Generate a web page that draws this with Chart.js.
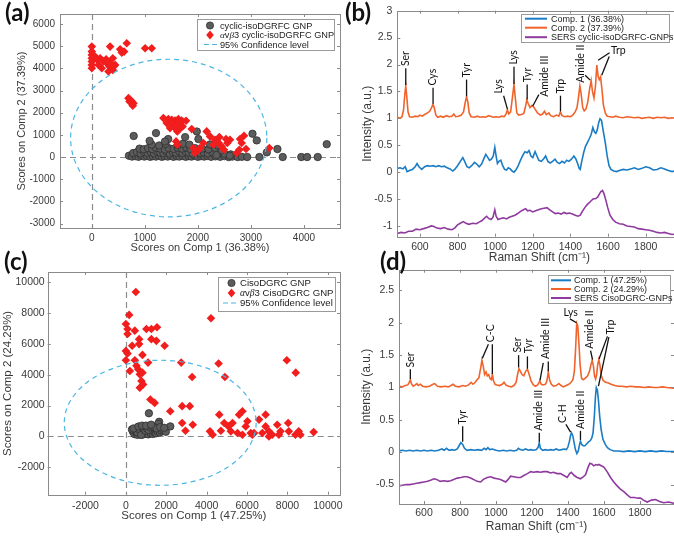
<!DOCTYPE html>
<html>
<head>
<meta charset="utf-8">
<script src="https://cdn.jsdelivr.net/npm/chart.js@4.4.1/dist/chart.umd.min.js"></script>
<style>
  body { margin: 0; width: 674px; height: 536px; overflow: hidden; background: #fff; position: relative; }
  canvas { position: absolute; }
  .lab { position: absolute; font: bold 24px Lato, 'Open Sans', sans-serif; color: #111; line-height: 24px; }
</style>
</head>
<body>
<canvas id="ca" width="345" height="262" style="left:0;top:0;width:345px;height:262px"></canvas>
<canvas id="cb" width="345" height="268" style="left:340px;top:0;width:345px;height:268px"></canvas>
<canvas id="cc" width="345" height="274" style="left:0;top:262px;width:345px;height:274px"></canvas>
<canvas id="cd" width="334" height="274" style="left:340px;top:262px;width:334px;height:274px"></canvas>
<div class="lab" style="left:5px;top:0">(a)</div>
<div class="lab" style="left:345px;top:0">(b)</div>
<div class="lab" style="left:4px;top:249px">(c)</div>
<div class="lab" style="left:380px;top:249px">(d)</div>
<script>
// ---------- panel (a): PCA scores, cyclic-isoDGRFC ----------
const aXTicks = [0, 1000, 2000, 3000, 4000];
const aYTicks = [-3000, -2000, -1000, 0, 1000, 2000, 3000, 4000, 5000, 6000];
const aLegend = ['cyclic-isoDGRFC GNP', '\u03B1v\u03B23 cyclic-isoDGRFC GNP', '95% Confidence level'];
const aEllipse = [1450, 855, 1850, 3555]; // centre x, centre y, half-width, half-height
const aGnp = [
  [700,60],[760,20],[820,40],[880,10],[930,60],[990,20],[1040,50],[1100,10],[1150,40],[1210,20],
  [1260,60],[1320,10],[1370,40],[1430,20],[1480,60],[1540,10],[1600,40],[1650,20],[1710,50],[1770,10],
  [1830,40],[1880,20],[1940,60],[2000,10],[2060,40],[2120,20],[2180,50],[2250,10],[2330,30],[2420,10],
  [2500,40],[2580,0],[2650,20],[2750,0],[2830,10],[2930,0],
  [780,180],[850,220],[920,160],[980,240],[1050,190],[1110,230],[1170,170],[1230,250],[1290,200],[1350,180],
  [1410,240],[1470,160],[1530,220],[1590,190],[1650,250],[1710,170],[1770,230],[1830,200],[1900,160],[1970,240],
  [2040,180],[2110,210],[2190,160],[2270,230],[2380,170],[2500,150],[2620,120],
  [900,380],[980,350],[1060,400],[1140,360],[1210,420],[1290,380],[1380,340],[1450,400],[1540,370],[1620,420],
  [1700,380],[1780,430],[1860,360],[1950,400],[2080,380],[2200,350],[2330,400],
  [1130,560],[1270,520],[1390,590],[1620,540],[1720,600],[1840,560],[2230,570],[2380,520],
  [790,950],[1090,730],[1210,1080],[1440,810],[1380,700],[1980,1150],[2010,810],[1760,900],[3030,1050],[3110,750],
  [3300,210],[3500,360],[3600,0],[3160,0],[3950,0],[4060,0],[4260,0],[4430,580],[2350,90],[2600,60],[2450,300]
];
const aAvb3 = [
  [0,4980],[0,4755],[0,4605],[0,4455],[0,4305],[0,4155],[0,4005],
  [63,4530],[107,4380],[157,4455],[220,4305],[270,4410],[126,4155],[188,4005],[283,4230],[333,4080],
  [396,3930],[440,4155],[408,4080],[314,3855],[345,4230],
  [345,4980],[396,4455],[534,4860],[609,4755],[659,5130],[1005,4905],[1130,4905],[565,4710],
  [691,2655],[722,2580],[754,2505],[785,2430],[772,2310],[710,2505],
  [1350,1755],[1444,1710],[1507,1680],[1570,1650],[1632,1710],[1695,1650],[1777,1635],[1413,1530],[1507,1500],[1589,1410],
  [1663,1530],[1713,1380],[1650,1260],[1613,1155],[1570,1305],[1475,1305],[1884,1260],[1589,705],[1613,555],[2040,405],
  [2010,330],[1947,180],[2166,1155],[2229,930],[2323,780],[2386,660],[2449,480],[2493,330],[2556,630],[2606,780],
  [2531,810],[2405,900],[2292,555],[2731,180],[2782,330],[2826,630],[2870,960],[2795,810],[2908,360],[3348,405],
  [1915,405],[2103,630]
];

// ---------- panel (c): PCA scores, CisoDGRC ----------
const cXTicks = [-2000, 0, 2000, 4000, 6000, 8000, 10000];
const cYTicks = [-2000, 0, 2000, 4000, 6000, 8000, 10000];
const cLegend = ['CisoDGRC GNP', '\u03B1v\u03B23 CisoDGRC GNP', '95% Confidence level'];
const cEllipse = [1700, 883, 4750, 4050];
const cGnp = [
  [350,300],[420,150],[480,420],[520,220],[580,100],[610,500],[650,330],[700,180],[740,560],[780,260],
  [820,120],[860,420],[900,300],[940,160],[980,520],[1020,240],[1060,380],[1100,130],[1140,640],[1180,300],
  [1220,200],[1260,460],[1300,340],[1340,160],[1380,560],[1420,260],[1460,420],[1500,200],[1560,340],[1620,500],
  [1680,260],[1750,380],[1850,420],[1980,300],[2200,650],[1650,950],[1140,1500],[1600,820],[440,380],[560,260],
  [680,420],[760,100],[880,500],[960,380],[1040,520],[1120,420],[1200,580],[1320,620],[1440,580],[1520,520],
  [300,450],[380,520],[620,640],[800,700],[1000,700],[1250,760],[1700,600],[1900,560]
];
const cAvb3 = [
  [492,9350],[164,7870],[0,7280],[82,6960],[82,6630],[443,6850],[656,6300],[656,5980],[311,5870],[0,5540],
  [82,5370],[0,4930],[443,4930],[820,5280],[197,4240],[525,4570],[607,4350],[689,4020],[820,4130],[770,3590],
  [689,3150],[853,3370],[1098,4780],[1016,6960],[1262,6960],[1262,6300],[1541,7070],[1508,6190],[1918,5870],[1213,2390],
  [1426,2170],[2197,1630],[2738,4780],[3279,3850],[2787,1960],[3164,1960],[2787,870],[2951,370],[3311,760],[4213,7650],
  [4590,4720],[4902,3850],[4164,330],[4295,110],[4623,1410],[4705,370],[4869,870],[5082,650],[5279,870],[5197,330],
  [5607,1410],[5770,1630],[5525,220],[5770,110],[5934,650],[6016,980],[6180,220],[6344,220],[6590,1090],[6754,220],
  [6918,1410],[6918,650],[7082,330],[7246,110],[7492,760],[7656,330],[7574,110],[8033,870],[8066,330],[8393,110],
  [8557,330],[8639,110],[9295,280],[7967,4930],[8410,4130],[7082,0],[6262,110]
];

// ---------- panel (b): loadings / SERS spectra ----------
const shiftTicks = [600, 800, 1000, 1200, 1400, 1600, 1800];
const bYTicks = [-1, -0.5, 0, 0.5, 1, 1.5, 2, 2.5, 3];
const bLegend = ['Comp. 1 (36.38%)', 'Comp. 2 (37.39%)', 'SERS cyclic-isoDGRFC-GNPs'];
const bComp1 = [
  [480,0.07],[495,0.08],[510,0.06],[522,0.1],[532,0.01],[545,0.03],[560,0.05],[575,0.1],[585,0.16],[595,0.1],
  [610,0.05],[625,0.1],[640,0.12],[655,0.11],[670,0.12],[685,0.1],[700,0.12],[715,0.1],[730,0.11],[745,0.08],
  [760,0.06],[775,0.02],[785,0.05],[800,0.12],[815,0.2],[828,0.27],[838,0.2],[850,0.1],[862,0.08],[875,0.12],
  [890,0.18],[902,0.15],[915,0.1],[928,0.15],[940,0.25],[950,0.33],[960,0.28],[970,0.22],[980,0.24],[990,0.3],
  [998,0.46],[1005,0.3],[1012,0.16],[1020,0.2],[1030,0.22],[1040,0.12],[1050,0.05],[1060,0.04],[1070,0.08],[1080,0.06],
  [1090,0.02],[1100,0.0],[1110,0.04],[1120,0.1],[1132,0.2],[1145,0.3],[1158,0.38],[1170,0.36],[1180,0.4],[1190,0.3],
  [1200,0.27],[1212,0.38],[1222,0.3],[1232,0.22],[1245,0.2],[1258,0.25],[1268,0.3],[1280,0.2],[1292,0.17],[1305,0.2],
  [1318,0.24],[1330,0.18],[1342,0.16],[1355,0.2],[1368,0.17],[1380,0.22],[1392,0.2],[1405,0.24],[1418,0.3],[1428,0.25],
  [1438,0.16],[1446,0.07],[1452,0.05],[1460,0.2],[1470,0.36],[1480,0.48],[1490,0.55],[1500,0.62],[1510,0.7],[1519,0.83],
  [1527,0.75],[1535,0.72],[1542,0.78],[1550,0.92],[1557,0.99],[1565,0.96],[1575,0.75],[1585,0.55],[1595,0.3],[1605,0.12],
  [1615,0.05],[1630,0.02],[1645,0.01],[1660,0.03],[1680,0.05],[1700,0.04],[1720,0.06],[1740,0.08],[1760,0.05],[1780,0.07],
  [1800,0.1],[1820,0.08],[1840,0.04],[1860,0.05],[1880,0.08],[1900,0.06],[1920,0.03],[1940,0.01],[1960,0.03],[1990,0.0]
];
const bComp2 = [
  [480,1.02],[495,1.0],[505,1.03],[513,1.15],[520,1.45],[525,1.6],[530,1.42],[537,1.12],[545,1.03],[560,1.02],
  [575,1.04],[590,1.03],[600,1.06],[612,1.04],[625,1.07],[640,1.1],[652,1.13],[662,1.2],[670,1.26],[676,1.2],
  [685,1.06],[695,1.02],[710,1.04],[725,1.02],[740,1.05],[755,1.03],[770,1.04],[780,1.08],[790,1.03],[805,1.04],
  [820,1.06],[832,1.12],[840,1.28],[848,1.4],[855,1.3],[862,1.1],[872,1.03],[890,1.02],[905,1.04],[920,1.02],
  [935,1.03],[950,1.02],[965,1.05],[975,1.04],[990,1.02],[1005,1.03],[1020,1.02],[1035,1.04],[1048,1.03],[1058,1.08],
  [1065,1.16],[1072,1.08],[1082,1.12],[1092,1.4],[1100,1.63],[1107,1.38],[1115,1.1],[1125,1.06],[1140,1.07],[1152,1.09],
  [1160,1.2],[1168,1.34],[1175,1.28],[1185,1.2],[1195,1.24],[1203,1.22],[1212,1.17],[1225,1.1],[1240,1.06],[1252,1.08],
  [1262,1.13],[1272,1.07],[1285,1.1],[1295,1.05],[1310,1.03],[1325,1.06],[1338,1.04],[1347,1.12],[1355,1.05],[1370,1.03],
  [1385,1.04],[1400,1.03],[1412,1.06],[1425,1.12],[1435,1.2],[1443,1.4],[1450,1.6],[1457,1.45],[1465,1.2],[1473,1.14],
  [1482,1.17],[1492,1.3],[1502,1.55],[1510,1.7],[1517,1.5],[1525,1.38],[1533,1.6],[1540,1.99],[1547,1.78],[1553,1.72],
  [1560,1.77],[1567,1.55],[1575,1.25],[1585,1.1],[1595,1.04],[1610,1.03],[1625,1.02],[1640,1.04],[1660,1.02],[1680,1.01],
  [1700,1.03],[1720,1.02],[1740,1.01],[1760,1.02],[1780,1.0],[1800,1.01],[1820,1.02],[1840,1.0],[1860,1.02],[1880,1.01],
  [1900,1.02],[1920,1.0],[1940,1.01],[1960,1.0],[1990,1.0]
];
const bSers = [
  [480,-1.14],[500,-1.12],[520,-1.13],[540,-1.1],[560,-1.1],[580,-1.06],[600,-1.07],[620,-1.05],[640,-1.03],[660,-1.0],
  [675,-1.01],[690,-1.04],[710,-1.05],[730,-1.03],[750,-1.06],[770,-1.07],[785,-1.04],[800,-0.98],[815,-0.95],[830,-0.92],
  [845,-0.95],[860,-0.97],[880,-0.95],[900,-0.96],[915,-0.93],[930,-0.9],[945,-0.85],[955,-0.82],[965,-0.86],[978,-0.88],
  [988,-0.84],[998,-0.7],[1005,-0.82],[1015,-0.88],[1030,-0.86],[1045,-0.85],[1060,-0.87],[1075,-0.84],[1090,-0.82],[1105,-0.8],
  [1120,-0.77],[1135,-0.73],[1150,-0.7],[1162,-0.68],[1172,-0.72],[1185,-0.71],[1200,-0.74],[1215,-0.72],[1230,-0.7],[1245,-0.68],
  [1260,-0.67],[1275,-0.66],[1290,-0.7],[1305,-0.74],[1320,-0.77],[1335,-0.76],[1350,-0.78],[1365,-0.75],[1380,-0.77],[1395,-0.76],
  [1410,-0.78],[1425,-0.8],[1440,-0.82],[1452,-0.8],[1465,-0.72],[1478,-0.65],[1490,-0.6],[1505,-0.55],[1520,-0.5],[1535,-0.49],
  [1545,-0.46],[1555,-0.4],[1562,-0.36],[1570,-0.34],[1578,-0.4],[1588,-0.52],[1598,-0.66],[1610,-0.8],[1625,-0.88],[1640,-0.93],
  [1660,-0.96],[1680,-0.97],[1700,-1.0],[1720,-1.01],[1740,-1.02],[1760,-1.05],[1780,-1.06],[1800,-1.07],[1820,-1.08],[1840,-1.1],
  [1860,-1.12],[1880,-1.13],[1900,-1.12],[1920,-1.14],[1940,-1.16],[1960,-1.15],[1990,-1.18]
];
// peak labels: line [x0,y0,x1,y1] and text anchor, all in data units
const bNotes = [
  {t: 'Ser', line: [525, 1.62, 525, 1.93], at: [525, 1.97], rot: true},
  {t: 'Cys', line: [670, 1.27, 670, 1.57], at: [668, 1.61], rot: true},
  {t: 'Tyr', line: [848, 1.41, 848, 1.72], at: [848, 1.76], rot: true},
  {t: 'Lys', line: [1065, 1.17, 1045, 1.42], at: [1020, 1.46], rot: true},
  {t: 'Lys', line: [1100, 1.64, 1100, 1.96], at: [1100, 2.0], rot: true},
  {t: 'Tyr', line: [1170, 1.35, 1170, 1.63], at: [1170, 1.67], rot: true},
  {t: 'Amide III', line: [1200, 1.23, 1232, 1.44], at: [1262, 1.4], rot: true},
  {t: 'Trp', line: [1347, 1.13, 1347, 1.42], at: [1347, 1.46], rot: true},
  {t: 'Amide II', line: [1478, 1.8, 1505, 1.71], at: [1456, 1.66], rot: true},
  {t: 'Trp', line: [1547, 2.08, 1608, 2.22], at: [1615, 2.25], rot: false},
  {t: '', line: [1566, 1.8, 1606, 2.15]}
];

// ---------- panel (d): loadings / SERS spectra ----------
const dYTicks = [-0.5, 0, 0.5, 1, 1.5, 2, 2.5];
const dLegend = ['Comp. 1 (47.25%)', 'Comp. 2 (24.29%)', 'SERS CisoDGRC-GNPs'];
const dComp1 = [
  [461,0.02],[480,0.03],[500,0.02],[520,0.03],[540,0.02],[560,0.03],[580,0.02],[600,0.03],[620,0.02],[640,0.03],
  [660,0.02],[680,0.03],[700,0.05],[712,0.03],[725,0.06],[740,0.03],[755,0.04],[770,0.03],[785,0.05],[795,0.1],
  [805,0.15],[815,0.12],[825,0.06],[840,0.03],[860,0.04],[880,0.03],[900,0.04],[920,0.03],[935,0.06],[945,0.04],
  [955,0.07],[965,0.04],[980,0.05],[1000,0.03],[1020,0.02],[1040,0.03],[1060,0.02],[1080,0.03],[1100,0.02],[1115,0.03],
  [1125,0.06],[1135,0.04],[1150,0.03],[1165,0.05],[1180,0.03],[1195,0.04],[1210,0.03],[1225,0.04],[1235,0.08],[1241,0.15],
  [1247,0.06],[1260,0.03],[1275,0.04],[1290,0.03],[1305,0.04],[1320,0.03],[1335,0.05],[1350,0.03],[1365,0.04],[1380,0.05],
  [1392,0.04],[1400,0.08],[1408,0.16],[1415,0.26],[1420,0.3],[1427,0.26],[1435,0.14],[1442,0.04],[1450,-0.02],[1458,0.02],
  [1465,0.12],[1470,0.17],[1477,0.12],[1485,0.1],[1495,0.1],[1505,0.13],[1515,0.16],[1525,0.18],[1533,0.22],[1540,0.3],
  [1547,0.55],[1553,0.85],[1558,1.0],[1564,0.96],[1570,0.8],[1577,0.55],[1585,0.35],[1595,0.2],[1608,0.12],[1620,0.07],
  [1635,0.04],[1655,0.02],[1680,0.02],[1710,0.01],[1740,0.02],[1770,0.01],[1800,0.02],[1830,0.01],[1860,0.02],[1890,0.01],
  [1920,0.02],[1950,0.01],[1990,0.01]
];
const dComp2 = [
  [461,1.02],[480,1.01],[495,1.03],[510,1.04],[518,1.08],[524,1.12],[530,1.06],[540,1.02],[552,1.04],[560,1.06],
  [568,1.03],[580,1.05],[592,1.02],[610,1.01],[630,1.02],[650,1.05],[660,1.06],[675,1.02],[695,1.01],[715,1.02],
  [735,1.01],[750,1.03],[762,1.05],[775,1.02],[795,1.01],[815,1.03],[830,1.02],[848,1.04],[862,1.08],[872,1.05],
  [885,1.08],[895,1.12],[905,1.15],[915,1.3],[922,1.42],[930,1.32],[937,1.2],[945,1.24],[952,1.18],[960,1.2],
  [967,1.14],[975,1.12],[980,1.2],[987,1.1],[995,1.05],[1005,1.04],[1020,1.03],[1035,1.05],[1045,1.08],[1055,1.04],
  [1070,1.02],[1085,1.01],[1100,1.03],[1112,1.08],[1120,1.2],[1128,1.29],[1136,1.25],[1145,1.2],[1155,1.18],[1165,1.25],
  [1175,1.28],[1185,1.2],[1195,1.1],[1208,1.04],[1220,1.02],[1232,1.04],[1244,1.1],[1252,1.05],[1262,1.04],[1275,1.05],
  [1283,1.1],[1291,1.24],[1298,1.12],[1308,1.05],[1320,1.02],[1335,1.03],[1350,1.06],[1362,1.03],[1375,1.01],[1390,1.03],
  [1405,1.05],[1418,1.08],[1428,1.12],[1436,1.25],[1443,1.6],[1449,1.99],[1455,1.95],[1461,1.7],[1468,1.35],[1476,1.14],
  [1486,1.12],[1498,1.15],[1510,1.18],[1520,1.25],[1528,1.35],[1535,1.42],[1542,1.33],[1548,1.18],[1554,1.13],[1560,1.2],
  [1566,1.36],[1572,1.43],[1578,1.35],[1586,1.18],[1596,1.11],[1610,1.08],[1625,1.07],[1640,1.05],[1660,1.03],[1680,1.02],
  [1700,1.02],[1725,1.01],[1750,1.02],[1775,1.01],[1800,1.01],[1825,1.0],[1850,1.01],[1875,1.0],[1900,1.0],[1925,1.01],
  [1950,1.0],[1990,0.99]
];
const dSers = [
  [461,-0.52],[480,-0.51],[500,-0.5],[520,-0.5],[540,-0.49],[560,-0.48],[580,-0.47],[600,-0.46],[620,-0.45],[640,-0.43],
  [656,-0.41],[670,-0.42],[690,-0.45],[710,-0.44],[730,-0.45],[748,-0.44],[765,-0.42],[785,-0.4],[805,-0.39],[822,-0.38],
  [840,-0.38],[859,-0.4],[875,-0.42],[895,-0.45],[915,-0.46],[930,-0.42],[952,-0.39],[970,-0.38],[990,-0.4],[1007,-0.41],
  [1025,-0.42],[1040,-0.44],[1054,-0.46],[1068,-0.42],[1081,-0.37],[1100,-0.38],[1120,-0.39],[1137,-0.39],[1155,-0.36],[1175,-0.33],
  [1193,-0.3],[1210,-0.31],[1228,-0.3],[1248,-0.31],[1265,-0.3],[1285,-0.3],[1304,-0.32],[1320,-0.31],[1340,-0.33],[1359,-0.33],
  [1378,-0.36],[1396,-0.39],[1410,-0.33],[1419,-0.31],[1435,-0.36],[1452,-0.39],[1470,-0.41],[1485,-0.38],[1498,-0.35],[1510,-0.25],
  [1522,-0.17],[1533,-0.18],[1544,-0.21],[1556,-0.19],[1565,-0.2],[1572,-0.19],[1586,-0.21],[1600,-0.23],[1618,-0.3],[1637,-0.39],
  [1655,-0.46],[1674,-0.52],[1692,-0.57],[1711,-0.61],[1730,-0.66],[1748,-0.7],[1770,-0.7],[1790,-0.71],[1804,-0.71],[1820,-0.74],
  [1841,-0.77],[1865,-0.74],[1887,-0.73],[1910,-0.76],[1933,-0.78],[1960,-0.77],[1990,-0.79]
];
const dNotes = [
  {t: 'Ser', line: [524, 1.13, 524, 1.28], at: [524, 1.31], rot: true},
  {t: 'C-C', line: [924, 1.45, 958, 1.67], at: [968, 1.7], rot: true},
  {t: '', line: [980, 1.21, 980, 1.67]},
  {t: 'Ser', line: [1126, 1.31, 1126, 1.5], at: [1122, 1.54], rot: true},
  {t: 'Tyr', line: [1175, 1.29, 1175, 1.48], at: [1180, 1.53], rot: true},
  {t: 'Amide III', line: [1245, 1.11, 1263, 1.38], at: [1276, 1.44], rot: true},
  {t: '', line: [1291, 1.25, 1291, 1.4]},
  {t: 'Lys', line: [1411, 2.06, 1448, 2.0], at: [1376, 2.16], rot: false},
  {t: 'Amide II', line: [1537, 1.43, 1526, 1.57], at: [1522, 1.6], rot: true},
  {t: 'Trp', line: [1573, 1.44, 1620, 1.79], at: [1636, 1.82], rot: true},
  {t: '', line: [1570, 1.02, 1628, 1.78]},
  {t: 'Tyr', line: [815, 0.16, 815, 0.4], at: [815, 0.43], rot: true},
  {t: 'Amide III', line: [1241, 0.16, 1241, 0.3], at: [1238, 0.33], rot: true},
  {t: 'C-H', line: [1415, 0.31, 1389, 0.43], at: [1370, 0.45], rot: true},
  {t: 'Amide II', line: [1470, 0.19, 1470, 0.33], at: [1472, 0.36], rot: true}
];

// ---------- drawing ----------
Chart.defaults.font.family = "'Liberation Sans', Arial, sans-serif";
const TXT = '#3a3a3a';
const BLUE = '#1a7cc4', ORANGE = '#f0632b', PURPLE = '#8f3a9e';
const RED = '#f21d1d', GREY = '#5c5c5c', CYAN = '#4cb6e2';

const pairs = a => a.map(([x, y]) => ({x, y}));
const fixTicks = vals => s => { s.ticks = vals.map(v => ({value: v})); };

function richText(ctx, text, x, y, size) {
  // greek letters in italic like the TeX legend
  for (const ch of text) {
    const greek = ch === '\u03B1' || ch === '\u03B2';
    ctx.font = greek ? `italic ${size}px 'Liberation Serif', serif` : `${size}px 'Liberation Sans', Arial, sans-serif`;
    ctx.fillText(ch, x, y);
    x += ctx.measureText(ch).width;
  }
}

const framePlugin = {
  id: 'frame',
  beforeDatasetsDraw(chart, args, o) {
    const {ctx, chartArea: a, scales: {x, y}} = chart;
    if (!o.zero) return;
    ctx.save();
    ctx.strokeStyle = '#8c8c8c';
    ctx.lineWidth = 1.2;
    ctx.setLineDash([6, 4]);
    const x0 = Math.round(x.getPixelForValue(0)) + 0.5, y0 = Math.round(y.getPixelForValue(0)) + 0.5;
    ctx.beginPath();
    ctx.moveTo(x0, a.top); ctx.lineTo(x0, a.bottom);
    ctx.moveTo(a.left, y0); ctx.lineTo(a.right, y0);
    ctx.stroke();
    ctx.restore();
  },
  afterDatasetsDraw(chart, args, o) {
    const {ctx, chartArea: a, scales: {x, y}} = chart;
    ctx.save();
    if (o.ellipse) {
      const [cx, cy, rx, ry] = o.ellipse;
      const px = x.getPixelForValue(cx), py = y.getPixelForValue(cy);
      const prx = Math.abs(x.getPixelForValue(cx + rx) - px);
      const pry = Math.abs(y.getPixelForValue(cy + ry) - py);
      ctx.strokeStyle = CYAN;
      ctx.lineWidth = 1.2;
      ctx.setLineDash([5, 4]);
      ctx.beginPath();
      ctx.ellipse(px, py, prx, pry, 0, 0, Math.PI * 2);
      ctx.stroke();
      ctx.setLineDash([]);
    }
    if (o.notes) {
      ctx.strokeStyle = '#111';
      ctx.fillStyle = '#111';
      ctx.lineWidth = 1.3;
      ctx.font = "10.5px Lato, 'Open Sans', sans-serif";
      ctx.textBaseline = 'middle';
      ctx.textAlign = 'left';
      for (const n of o.notes) {
        const [x0, y0, x1, y1] = n.line;
        ctx.beginPath();
        ctx.moveTo(x.getPixelForValue(x0), y.getPixelForValue(y0));
        ctx.lineTo(x.getPixelForValue(x1), y.getPixelForValue(y1));
        ctx.stroke();
        if (!n.t) continue;
        const tx = x.getPixelForValue(n.at[0]), ty = y.getPixelForValue(n.at[1]);
        if (n.rot) {
          ctx.save();
          ctx.translate(tx, ty);
          ctx.rotate(-Math.PI / 2);
          ctx.fillText(n.t, 0, 0);
          ctx.restore();
        } else {
          ctx.fillText(n.t, tx, ty);
        }
      }
    }
    // box and inward ticks
    ctx.strokeStyle = '#8a8a8a';
    ctx.lineWidth = 1;
    ctx.strokeRect(Math.round(a.left) + 0.5, Math.round(a.top) + 0.5, Math.round(a.right - a.left), Math.round(a.bottom - a.top));
    ctx.beginPath();
    for (const t of x.ticks) {
      const px = Math.round(x.getPixelForValue(t.value)) + 0.5;
      ctx.moveTo(px, a.bottom); ctx.lineTo(px, a.bottom - 3);
      ctx.moveTo(px, a.top); ctx.lineTo(px, a.top + 3);
    }
    for (const t of y.ticks) {
      const py = Math.round(y.getPixelForValue(t.value)) + 0.5;
      ctx.moveTo(a.left, py); ctx.lineTo(a.left + 3, py);
      ctx.moveTo(a.right, py); ctx.lineTo(a.right - 3, py);
    }
    ctx.stroke();
    // legend
    const L = o.legend;
    if (L) {
      ctx.fillStyle = '#fff';
      ctx.fillRect(L.box[0], L.box[1], L.box[2], L.box[3]);
      ctx.strokeStyle = '#9a9a9a';
      ctx.strokeRect(L.box[0] + 0.5, L.box[1] + 0.5, L.box[2], L.box[3]);
      ctx.textBaseline = 'middle';
      ctx.textAlign = 'left';
      L.items.forEach((it, i) => {
        const ry = L.rows[i];
        if (it.kind === 'circle') {
          ctx.fillStyle = GREY; ctx.strokeStyle = '#2e2e2e'; ctx.lineWidth = 0.8;
          ctx.beginPath(); ctx.arc(L.mark, ry, 3.6, 0, Math.PI * 2); ctx.fill(); ctx.stroke();
        } else if (it.kind === 'diamond') {
          ctx.fillStyle = RED;
          ctx.beginPath();
          ctx.moveTo(L.mark, ry - 4.5); ctx.lineTo(L.mark + 3.8, ry);
          ctx.lineTo(L.mark, ry + 4.5); ctx.lineTo(L.mark - 3.8, ry);
          ctx.closePath(); ctx.fill();
        } else {
          ctx.strokeStyle = it.color; ctx.lineWidth = it.kind === 'dash' ? 1.2 : 2;
          ctx.setLineDash(it.kind === 'dash' ? [5, 3] : []);
          ctx.beginPath(); ctx.moveTo(L.line[0], ry); ctx.lineTo(L.line[1], ry); ctx.stroke();
          ctx.setLineDash([]);
        }
        ctx.fillStyle = '#222';
        richText(ctx, it.text, L.text, ry + 0.5, L.size);
      });
    }
    ctx.restore();
  }
};
Chart.register(framePlugin);

function axes(o) {
  return {
    x: {
      type: 'linear', min: o.xr[0], max: o.xr[1],
      afterBuildTicks: fixTicks(o.xt),
      afterFit: s => { s.height = o.xh; s.paddingLeft = 0; s.paddingRight = 0; },
      grid: {display: false, drawTicks: false}, border: {display: false},
      ticks: {padding: o.xpad, color: TXT, font: {size: o.tick}, maxRotation: 0, autoSkip: false, callback: v => String(v)},
      title: {display: true, text: o.xtitle, color: TXT, font: {size: o.tsize}, padding: {top: 0, bottom: o.xtp}}
    },
    y: {
      type: 'linear', min: o.yr[0], max: o.yr[1],
      afterBuildTicks: fixTicks(o.yt),
      afterFit: s => { s.width = o.yw; s.paddingTop = 0; s.paddingBottom = 0; },
      grid: {display: false, drawTicks: false}, border: {display: false},
      ticks: {padding: o.ypad, color: TXT, font: {size: o.tick}, autoSkip: false, callback: v => String(v)},
      title: {display: true, text: o.ytitle, color: TXT, font: {size: o.tsize}, padding: {top: o.ytp, bottom: 0}}
    }
  };
}

function baseOptions(pad, scales, frame) {
  return {
    responsive: false, animation: false, devicePixelRatio: 1,
    layout: {padding: pad},
    scales,
    plugins: {legend: {display: false}, tooltip: {enabled: false}, frame}
  };
}

const scatterSet = (data, kind) => kind === 'gnp'
  ? {data: pairs(data), order: 1, pointStyle: 'circle', pointRadius: 3.7, backgroundColor: GREY, borderColor: '#2e2e2e', borderWidth: 0.8}
  : {data: pairs(data), order: 0, pointStyle: 'rectRot', pointRadius: 4.3, backgroundColor: RED, borderColor: RED, borderWidth: 0};

const lineSet = (data, color) => ({data: pairs(data), showLine: true, pointRadius: 0, borderColor: color, borderWidth: 1.6, tension: 0});

// (a)
new Chart(document.getElementById('ca'), {
  type: 'scatter',
  data: {datasets: [scatterSet(aGnp, 'gnp'), scatterSet(aAvb3, 'avb3')]},
  options: baseOptions({left: 0, top: 14, right: 5, bottom: 0},
    axes({xr: [-600, 4680], yr: [-3200, 6450], xt: aXTicks, yt: aYTicks, xh: 34, yw: 60, xpad: 4, ypad: 5,
          tick: 10, tsize: 11, xtp: 7, ytp: 15, xtitle: 'Scores on Comp 1 (36.38%)', ytitle: 'Scores on Comp 2 (37.39%)'}),
    {zero: true, ellipse: aEllipse,
     legend: {box: [197, 19, 137, 31], rows: [25.5, 35, 44.5], mark: 210, line: [204, 217], text: 220, size: 9.2,
              items: [{kind: 'circle', text: aLegend[0]}, {kind: 'diamond', text: aLegend[1]}, {kind: 'dash', color: CYAN, text: aLegend[2]}]}})
});

// (c)
new Chart(document.getElementById('cc'), {
  type: 'scatter',
  data: {datasets: [scatterSet(cGnp, 'gnp'), scatterSet(cAvb3, 'avb3')]},
  options: baseOptions({left: 0, top: 10, right: 5, bottom: 0},
    axes({xr: [-3870, 10600], yr: [-3775, 10650], xt: cXTicks, yt: cYTicks, xh: 41.3, yw: 47.7, xpad: 5, ypad: 3,
          tick: 10.5, tsize: 11.5, xtp: 13, ytp: 1, xtitle: 'Scores on Comp 1 (47.25%)', ytitle: 'Scores on Comp 2 (24.29%)'}),
    {zero: true, ellipse: cEllipse,
     legend: {box: [218, 15, 117, 34], rows: [21, 31, 41], mark: 231.5, line: [223, 238], text: 240, size: 9.6,
              items: [{kind: 'circle', text: cLegend[0]}, {kind: 'diamond', text: cLegend[1]}, {kind: 'dash', color: CYAN, text: cLegend[2]}]}})
});

// (b)
new Chart(document.getElementById('cb'), {
  type: 'scatter',
  data: {datasets: [lineSet(bComp1, BLUE), lineSet(bComp2, ORANGE), lineSet(bSers, PURPLE)]},
  options: baseOptions({left: 0, top: 10.7, right: 3.5, bottom: 0},
    axes({xr: [480, 1990], yr: [-1.2, 3], xt: shiftTicks, yt: bYTicks, xh: 31.3, yw: 57.3, xpad: 4, ypad: 5,
          tick: 10.5, tsize: 12, xtp: 3, ytp: 20, xtitle: 'Raman Shift (cm\u207B\u00B9)', ytitle: 'Intensity (a.u.)'}),
    {notes: bNotes,
     legend: {box: [181, 14, 148, 28], rows: [18.7, 27.7, 37.2], line: [185, 207], text: 211, size: 9,
              items: [{kind: 'line', color: BLUE, text: bLegend[0]}, {kind: 'line', color: ORANGE, text: bLegend[1]}, {kind: 'line', color: PURPLE, text: bLegend[2]}]}})
});

// (d)
new Chart(document.getElementById('cd'), {
  type: 'scatter',
  data: {datasets: [lineSet(dComp1, BLUE), lineSet(dComp2, ORANGE), lineSet(dSers, PURPLE)]},
  options: baseOptions({left: 0, top: 7.7, right: 0, bottom: 0},
    axes({xr: [461, 1990], yr: [-0.8, 2.82], xt: shiftTicks, yt: dYTicks, xh: 32, yw: 59, xpad: 3, ypad: 5,
          tick: 10.5, tsize: 12, xtp: 2, ytp: 19, xtitle: 'Raman Shift (cm\u207B\u00B9)', ytitle: 'Intensity (a.u.)'}),
    {notes: dNotes,
     legend: {box: [208, 13, 122, 28], rows: [18.3, 27, 36], line: [211, 231], text: 234, size: 9,
              items: [{kind: 'line', color: BLUE, text: dLegend[0]}, {kind: 'line', color: ORANGE, text: dLegend[1]}, {kind: 'line', color: PURPLE, text: dLegend[2]}]}})
});
</script>
</body>
</html>
